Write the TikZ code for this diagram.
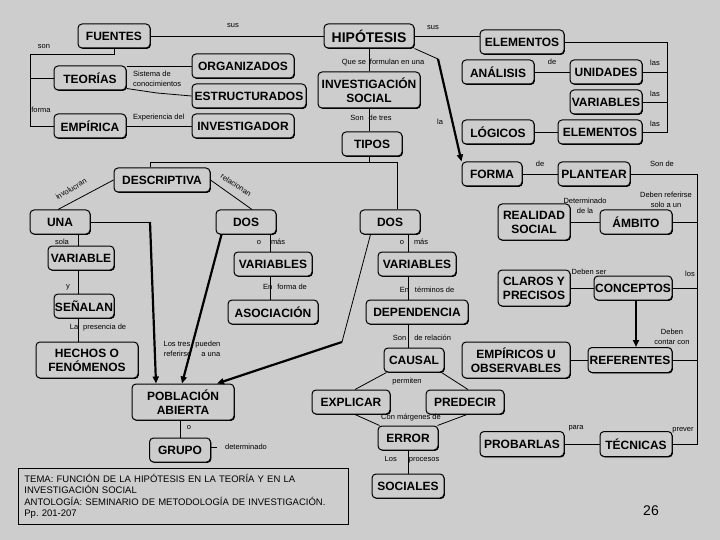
\documentclass[tikz,border=0pt]{standalone}
\usepackage{fontspec}
\setmainfont{Liberation Sans}
\usetikzlibrary{arrows.meta,shadows,calc}
\definecolor{bg}{RGB}{205,205,205}
\begin{document}
\begin{tikzpicture}[x=1pt,y=-1pt,
  box/.style={draw, line width=1pt, rounded corners=4pt, fill=bg, inner sep=0pt, align=center,
    font=\bfseries\fontsize{12}{14}\selectfont,
    drop shadow={shadow xshift=0.9pt, shadow yshift=-0.9pt, opacity=1, fill=black}},
  wh/.style 2 args={minimum width=#1, minimum height=#2},
  lbl/.style={font=\fontsize{7.5}{10}\selectfont, inner sep=0pt, align=center},
  ln/.style={line width=0.8pt},
  thk/.style={line width=2.2pt, -{Triangle[length=7pt,width=6pt]}},
]
\fill[bg] (0,0) rectangle (720,540);
\useasboundingbox (0,0) rectangle (720,540);

% ---------- nodes ----------
\node[box, wh={72}{24}] (FUENTES) at (114,36) {FUENTES};
\node[box, wh={90}{24}, font=\bfseries\fontsize{14}{16}\selectfont] (HIPOTESIS) at (369,36) {HIPÓTESIS};
\node[box, wh={84}{24}] (ELEM1) at (522,42) {ELEMENTOS};
\node[box, wh={72}{24}] (TEORIAS) at (90,78) {TEORÍAS};
\node[box, wh={72}{24}] (EMPIRICA) at (90,126) {EMPÍRICA};
\node[box, wh={102}{24}] (ORGANIZADOS) at (243,66) {ORGANIZADOS};
\node[box, wh={114}{24}] (ESTRUCTURADOS) at (249,96) {ESTRUCTURADOS};
\node[box, wh={102}{24}] (INVESTIGADOR) at (243,126) {INVESTIGADOR};
\node[box, wh={102}{36}] (INVSOCIAL) at (369,90) {INVESTIGACIÓN\\SOCIAL};
\node[box, wh={60}{24}] (TIPOS) at (372,144) {TIPOS};
\node[box, wh={72}{24}] (ANALISIS) at (498,72) {ANÁLISIS};
\node[box, wh={72}{24}] (UNIDADES) at (606,72) {UNIDADES};
\node[box, wh={72}{24}] (VARIABLESR) at (606,102) {VARIABLES};
\node[box, wh={72}{24}] (LOGICOS) at (498,132) {LÓGICOS};
\node[box, wh={84}{24}] (ELEM2) at (600,132) {ELEMENTOS};
\node[box, wh={60}{24}] (FORMA) at (492,174) {FORMA};
\node[box, wh={72}{24}] (PLANTEAR) at (594,174) {PLANTEAR};
\node[box, wh={72}{36}] (REALIDAD) at (534,222) {REALIDAD\\SOCIAL};
\node[box, wh={72}{24}] (AMBITO) at (636,222) {ÁMBITO};
\node[box, wh={72}{36}] (CLAROS) at (534,288) {CLAROS Y\\PRECISOS};
\node[box, wh={78}{24}] (CONCEPTOS) at (633,288) {CONCEPTOS};
\node[box, wh={108}{36}] (EMPIRICOS) at (516,360) {EMPÍRICOS U\\OBSERVABLES};
\node[box, wh={84}{25}] (REFERENTES) at (630,360) {REFERENTES};
\node[box, wh={84}{25}] (PROBARLAS) at (522,444) {PROBARLAS};
\node[box, wh={72}{25}] (TECNICAS) at (636,444) {TÉCNICAS};
\node[box, wh={96}{24}] (DESCRIPTIVA) at (162,180) {DESCRIPTIVA};
\node[box, wh={60}{24}] (UNA) at (60,222) {UNA};
\node[box, wh={60}{24}] (DOSL) at (246,222) {DOS};
\node[box, wh={60}{24}] (DOSR) at (390,222) {DOS};
\node[box, wh={66}{24}] (VARIABLE) at (81,258) {VARIABLE};
\node[box, wh={60}{24}] (SENALAN) at (84,306) {SEÑALAN};
\node[box, wh={102}{36}] (HECHOS) at (87,360) {HECHOS O\\FENÓMENOS};
\node[box, wh={78}{24}] (VARIABLESM) at (273,264) {VARIABLES};
\node[box, wh={90}{24}] (ASOCIACION) at (273,312) {ASOCIACIÓN};
\node[box, wh={78}{24}] (VARIABLESR2) at (417,264) {VARIABLES};
\node[box, wh={102}{24}] (DEPENDENCIA) at (417,312) {DEPENDENCIA};
\node[box, wh={60}{24}] (CAUSAL) at (414,360) {CAUSAL};
\node[box, wh={78}{24}] (EXPLICAR) at (351,402) {EXPLICAR};
\node[box, wh={78}{24}] (PREDECIR) at (465,402) {PREDECIR};
\node[box, wh={60}{24}] (ERROR) at (408,438) {ERROR};
\node[box, wh={72}{24}] (SOCIALES) at (408,486) {SOCIALES};
\node[box, wh={102}{36}] (POBLACION) at (183,402) {POBLACIÓN\\ABIERTA};
\node[box, wh={61}{24}] (GRUPO) at (180,450) {GRUPO};

\node[draw, line width=0.8pt, anchor=north west, minimum width=330pt, minimum height=56pt,
      text width=318pt, inner xsep=6pt, align=left,
      font=\fontsize{9.5}{11.5}\selectfont] (TEMA) at (18,468)
  {TEMA: FUNCIÓN DE LA HIPÓTESIS EN LA TEORÍA Y EN LA\\
   INVESTIGACIÓN SOCIAL\\
   ANTOLOGÍA: SEMINARIO DE METODOLOGÍA DE INVESTIGACIÓN.\\
   Pp.\ 201-207};

% ---------- coordinates ----------
\coordinate (bus1) at (30,54);
\coordinate (tbend) at (157,93);
\coordinate (hb) at (438,59);
\coordinate (ebus) at (667,132);
\coordinate (pbus) at (697,444);
\coordinate (tL) at (150,162);
\coordinate (tR) at (397,162);
\coordinate (ua) at (150,222);
\coordinate (db) at (342,342);
\coordinate (vx) at (78,0);
\coordinate (mx) at (270,0);
\coordinate (rx) at (408,0);
\coordinate (gt) at (217,447);

% ---------- connectors ----------
\draw[ln] (FUENTES.east) -- (HIPOTESIS.west);
\draw[ln] (HIPOTESIS.east) -- (HIPOTESIS.east -| ELEM1.west);
\draw[ln] (FUENTES.south) |- (bus1) |- (EMPIRICA.west);
\draw[ln] (TEORIAS.west) -- (TEORIAS.west -| bus1);
\draw[ln] (TEORIAS.east |- ORGANIZADOS.west) -- (ORGANIZADOS.west);
\draw[ln] ([yshift=2pt]TEORIAS.south east) -- (tbend) -- (ESTRUCTURADOS.west);
\draw[ln] (EMPIRICA.east) -- (INVESTIGADOR.west);
\draw[ln] (HIPOTESIS.south) -- (INVSOCIAL.north);
\draw[ln] (INVSOCIAL.south) -- (INVSOCIAL.south |- TIPOS.north);
\draw[ln] (TIPOS.south -| INVSOCIAL.south) -- (tL -| INVSOCIAL.south);
\draw[ln] (tL) -- (tR);
\draw[ln] (tL) -- (tL |- DESCRIPTIVA.north);
\draw[ln] (tR) -- (tR |- DOSR.north);
\draw[ln] (HIPOTESIS.south east) -- (hb);
\draw[thk] (hb) -- (FORMA.north west);
\draw[ln] (ELEM1.east) -| (ebus) -- (ELEM2.east);
\draw[ln] (UNIDADES.east) -- (UNIDADES.east -| ebus);
\draw[ln] (VARIABLESR.east) -- (VARIABLESR.east -| ebus);
\draw[ln] (ANALISIS.east) -- (UNIDADES.west);
\draw[ln] (LOGICOS.east) -- (ELEM2.west);
\draw[ln] (FORMA.east) -- (PLANTEAR.west);
\draw[ln] (PLANTEAR.east) -| (pbus) -- (TECNICAS.east);
\draw[ln] (AMBITO.east) -- (AMBITO.east -| pbus);
\draw[ln] (CONCEPTOS.east) -- (CONCEPTOS.east -| pbus);
\draw[ln] (REFERENTES.east) -- (REFERENTES.east -| pbus);
\draw[ln] (REALIDAD.east) -- (AMBITO.west);
\draw[ln] (CLAROS.east) -- (CONCEPTOS.west);
\draw[ln] (EMPIRICOS.east) -- (REFERENTES.west);
\draw[ln] (PROBARLAS.east) -- (TECNICAS.west);
\draw[thk] ([xshift=3pt]CONCEPTOS.south) -- ([xshift=3pt]CONCEPTOS.south |- REFERENTES.north);
\draw[ln] (DESCRIPTIVA.west) -- ([xshift=-2pt]UNA.north);
\draw[ln] (DESCRIPTIVA.east) -- ([xshift=6pt]DOSL.north);
\draw[ln] (UNA.east) -- (ua);
\draw[thk] (ua) -- ([xshift=-27pt]POBLACION.north);
\draw[thk] ([xshift=6pt]DOSL.south west) -- ([xshift=-1pt]POBLACION.north);
\draw[ln] ([xshift=11pt]DOSR.south west) -- (db);
\draw[thk] (db) -- ([xshift=34pt]POBLACION.north);
\draw[ln] (UNA.south -| vx) -- (VARIABLE.north -| vx);
\draw[ln] (VARIABLE.south -| vx) -- (SENALAN.north -| vx);
\draw[ln] (SENALAN.south -| vx) -- (HECHOS.north -| vx);
\draw[ln] (DOSL.south -| mx) -- (VARIABLESM.north -| mx);
\draw[ln] (VARIABLESM.south -| mx) -- (ASOCIACION.north -| mx);
\draw[ln] (DOSR.south -| rx) -- (VARIABLESR2.north -| rx);
\draw[ln] (VARIABLESR2.south -| rx) -- (DEPENDENCIA.north -| rx);
\draw[ln] (DEPENDENCIA.south -| rx) -- (CAUSAL.north -| rx);
\draw[ln] ([xshift=3pt]CAUSAL.south west) -- ([xshift=4pt]EXPLICAR.north);
\draw[ln] ([xshift=-3pt]CAUSAL.south east) -- ([xshift=3pt]PREDECIR.north);
\draw[ln] ([xshift=4pt]EXPLICAR.south) -- ([xshift=2pt]ERROR.north west);
\draw[ln] ([xshift=2pt]PREDECIR.south) -- ([xshift=-1pt]ERROR.north east);
\draw[ln] (ERROR.south) -- (SOCIALES.north);
\draw[ln] (POBLACION.south -| GRUPO.north) -- (GRUPO.north);
\draw[ln] (GRUPO.east |- gt) -- (gt);

% ---------- labels ----------
\node[lbl] at (233,26) {sus};
\node[lbl] at (433,28) {sus};
\node[lbl] at (44,47) {son};
\node[lbl] at (41,110) {forma};
\node[lbl, anchor=west, align=left] at (133,79) {Sistema de\\conocimientos};
\node[lbl, anchor=west] at (133,118) {Experiencia del};
\node[lbl] at (383,62) {Que se\hspace{4pt}formulan en una};
\node[lbl] at (371,118) {Son\hspace{5pt}de tres};
\node[lbl] at (440,122) {la};
\node[lbl] at (552,62) {de};
\node[lbl] at (655,63) {las};
\node[lbl] at (655,94) {las};
\node[lbl] at (655,124) {las};
\node[lbl] at (540,164) {de};
\node[lbl] at (662,164) {Son de};
\node[lbl] at (585,206) {Determinado\\de la};
\node[lbl] at (666,200) {Deben referirse\\solo a un};
\node[lbl] at (589,272) {Deben ser};
\node[lbl] at (690,274) {los};
\node[lbl] at (672,337) {Deben\\contar con};
\node[lbl] at (576,428) {para};
\node[lbl] at (683,430) {prever};
\node[font=\fontsize{14}{16}\selectfont, inner sep=0pt] at (651,511) {26};
\node[lbl, rotate=30] at (71,189) {involucran};
\node[lbl, rotate=-33] at (236,185) {relacionan};
\node[lbl] at (62,242) {sola};
\node[lbl] at (68,287) {y};
\node[lbl] at (98,328) {La\hspace{5pt}presencia de};
\node[lbl] at (271,242) {o\hspace{10pt}más};
\node[lbl] at (285,287) {En\hspace{5pt}forma de};
\node[lbl] at (414,242) {o\hspace{10pt}más};
\node[lbl] at (427,290) {En\hspace{6pt}términos de};
\node[lbl] at (422,338) {Son\hspace{8pt}de relación};
\node[lbl] at (407,382) {permiten};
\node[lbl] at (411,418) {Con márgenes de};
\node[lbl] at (412,460) {Los\hspace{12pt}procesos};
\node[lbl] at (192,349) {Los tres\hspace{3pt} pueden\\referirse\hspace{8pt} a una};
\node[lbl] at (189,428) {o};
\node[lbl] at (246,447) {determinado};
\end{tikzpicture}
\end{document}
